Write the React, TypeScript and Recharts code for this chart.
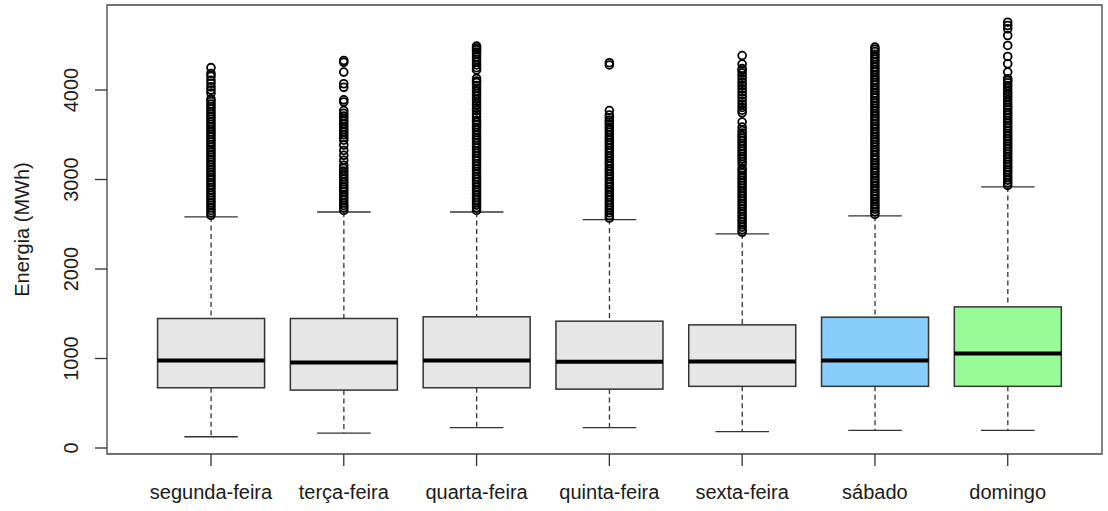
import React from 'react';
import { ComposedChart, Bar, Scatter, XAxis, YAxis, ReferenceArea } from 'recharts';

// weekday boxplot stats (MWh)
const days = ['segunda-feira', 'terça-feira', 'quarta-feira', 'quinta-feira', 'sexta-feira', 'sábado', 'domingo'];
const lowerWhisker = [126, 167, 227, 227, 182, 198, 198];
const firstQuartile = [673, 647, 673, 658, 689, 689, 689];
const medians = [979, 956, 979, 963, 967, 979, 1057];
const thirdQuartile = [1447, 1447, 1466, 1417, 1376, 1462, 1577];
const upperWhisker = [2582, 2637, 2637, 2552, 2392, 2593, 2917];
const yTicks = [0, 1000, 2000, 3000, 4000];
const xTicks = [1, 2, 3, 4, 5, 6, 7];
const yDomain: [number, number] = [-67, 4950];
const xDomain: [number, number] = [0.217, 7.71];

const segundaOut = [
  2600, 2628, 2655, 2684, 2712, 2740, 2769, 2797, 2825, 2853, 2882, 2910, 2938, 2966, 2995, 3023, 3051, 3080,
  3108, 3136, 3164, 3193, 3221, 3249, 3278, 3306, 3334, 3362, 3391, 3419, 3447, 3476, 3504, 3532, 3560, 3589,
  3617, 3645, 3674, 3702, 3730, 3758, 3787, 3815, 3843, 3872, 3900, 3965, 4000, 4035, 4075, 4110, 4155, 4185, 4250,
];
const tercaOut = [
  2655, 2685, 2710, 2740, 2770, 2800, 2830, 2860, 2890, 2915, 2945, 2975, 3005, 3035, 3065, 3095, 3125,
  3160, 3215, 3270, 3325, 3385,
  3440, 3470, 3500, 3530, 3560, 3590, 3620, 3650, 3680, 3710, 3740, 3770,
  3865, 3890, 4030, 4070, 4200, 4310, 4330,
];
const quartaOut = [
  2655, 2684, 2713, 2742, 2771, 2800, 2829, 2858, 2887, 2916, 2945, 2974, 3003, 3032, 3061, 3090, 3119, 3148,
  3177, 3206, 3235, 3264, 3293, 3322, 3351, 3380, 3409, 3438, 3467, 3496, 3525, 3554, 3583, 3612, 3640, 3662,
  3700, 3735, 3770, 3800, 3835, 3870, 3900, 3930, 3960, 3990, 4020, 4050, 4085, 4100, 4130,
  4225, 4250, 4280, 4310, 4340, 4370, 4400, 4425, 4450, 4470, 4490,
];
const quintaOut = [
  2570, 2599, 2628, 2657, 2686, 2715, 2744, 2773, 2802, 2831, 2860, 2889, 2918, 2947, 2976, 3005, 3034, 3063,
  3092, 3121, 3150, 3179, 3208, 3237, 3266, 3295, 3324, 3353, 3382, 3411, 3440, 3469, 3498, 3527, 3556, 3585,
  3614, 3643, 3662, 3690, 3720, 3770, 4280, 4305,
];
const sextaOut = [
  2410, 2439, 2468, 2497, 2526, 2555, 2584, 2613, 2642, 2671, 2700, 2729, 2758, 2787, 2816, 2845, 2874, 2903,
  2932, 2961, 2990, 3019, 3048, 3077, 3106, 3125, 3170,
  3200, 3229, 3258, 3287, 3316, 3345, 3374, 3403, 3432, 3461, 3490, 3519, 3548, 3586, 3642,
  3745, 3775, 3805, 3840, 3875, 3910, 3945, 3980, 4015, 4050, 4085, 4120, 4155, 4190, 4220, 4240, 4290, 4385,
];
const sabadoOut = [
  2610, 2640, 2668, 2697, 2725, 2755, 2784, 2812, 2840, 2870, 2900, 2928, 2957, 2985, 3015, 3044, 3072, 3100,
  3130, 3160, 3188, 3217, 3245, 3275, 3304, 3332, 3360, 3390, 3420, 3448, 3477, 3505, 3535, 3564, 3592, 3620,
  3650, 3680, 3708, 3737, 3765, 3795, 3824, 3852, 3880, 3910, 3940, 3968, 3997, 4025, 4055, 4084, 4112, 4140,
  4170, 4200, 4228, 4257, 4285, 4315, 4344, 4372, 4400, 4430, 4455, 4479,
];
const domingoOut = [
  2935, 2964, 2993, 3022, 3051, 3080, 3109, 3138, 3167, 3196, 3225, 3254, 3283, 3312, 3341, 3370, 3399, 3428,
  3457, 3486, 3515, 3544, 3573, 3602, 3631, 3660, 3689, 3718, 3747, 3776, 3805, 3830,
  3860, 3890, 3925, 3955, 3985, 4020, 4050, 4080, 4107, 4126, 4200, 4293, 4375, 4498, 4609, 4684, 4721, 4758,
];
const outliers = [segundaOut, tercaOut, quartaOut, quintaOut, sextaOut, sabadoOut, domingoOut];

const boxFills = ['#e6e6e6', '#e6e6e6', '#e6e6e6', '#e6e6e6', '#e6e6e6', '#87cefa', '#98fb98'];
const FONT = '"Liberation Sans", Arial, sans-serif';
const TEXT = '#1a1a1a';
const LINE = '#333';

const boxData = days.map((day, i) => ({
  pos: xTicks[i],
  day,
  box: [firstQuartile[i], thirdQuartile[i]],
  lo: lowerWhisker[i],
  q1: firstQuartile[i],
  med: medians[i],
  q3: thirdQuartile[i],
  hi: upperWhisker[i],
}));

const outlierPoints = days.flatMap((_, i) => outliers[i].map((v) => ({ pos: xTicks[i], v })));

// draws box, median, whiskers; the bar's own y/height give the scale
const BoxShape = (props: any) => {
  const { x, y, width, height, payload, index } = props;
  const top = Math.min(y, y + height);
  const h = Math.abs(height);
  const k = h / (payload.q3 - payload.q1);
  const toY = (v: number) => top + (payload.q3 - v) * k;
  const cx = x + width / 2;
  const capHalf = width / 4;
  const yHi = toY(payload.hi);
  const yLo = toY(payload.lo);
  const yMed = toY(payload.med);
  return (
    <g>
      <line x1={cx} x2={cx} y1={yHi} y2={top} stroke={LINE} strokeWidth={1.3} strokeDasharray="5 3.5" />
      <line x1={cx} x2={cx} y1={top + h} y2={yLo} stroke={LINE} strokeWidth={1.3} strokeDasharray="5 3.5" />
      <line x1={cx - capHalf} x2={cx + capHalf} y1={yHi} y2={yHi} stroke={LINE} strokeWidth={1.3} />
      <line x1={cx - capHalf} x2={cx + capHalf} y1={yLo} y2={yLo} stroke={LINE} strokeWidth={1.3} />
      <rect x={x} y={top} width={width} height={h} fill={boxFills[index]} stroke={LINE} strokeWidth={1.5} />
      <line x1={x} x2={x + width} y1={yMed} y2={yMed} stroke="#000" strokeWidth={4} />
    </g>
  );
};

const OutlierDot = (props: any) => (
  <circle cx={props.cx} cy={props.cy} r={3.9} fill="none" stroke="#000" strokeWidth={1.8} />
);

const YTick = ({ x, y, payload }: any) => (
  <text
    x={x - 15}
    y={y}
    transform={`rotate(-90, ${x - 15}, ${y})`}
    textAnchor="middle"
    fontSize={20}
    fontFamily={FONT}
    fill={TEXT}
  >
    {payload.value}
  </text>
);

const YLabel = ({ viewBox }: any) => {
  const cy = viewBox.y + viewBox.height / 2;
  return (
    <text x={29} y={cy} transform={`rotate(-90, 29, ${cy})`} textAnchor="middle" fontSize={20} fontFamily={FONT} fill={TEXT}>
      Energia (MWh)
    </text>
  );
};

export default function App() {
  return (
    <div style={{ position: 'absolute', left: 0, top: 0, background: '#fff' }}>
      <ComposedChart
        width={1108}
        height={511}
        data={boxData}
        margin={{ top: 5, right: 6, bottom: 0, left: 0 }}
        style={{ fontFamily: FONT }}
      >
        <XAxis
          dataKey="pos"
          type="number"
          domain={xDomain}
          ticks={xTicks}
          allowDataOverflow
          tickFormatter={(v: number) => days[v - 1]}
          height={57}
          axisLine={false}
          tickSize={12}
          tickMargin={19}
          tickLine={{ stroke: LINE, strokeWidth: 1.3 }}
          tick={{ fontSize: 20, fill: TEXT, fontFamily: FONT }}
          interval={0}
        />
        <YAxis
          type="number"
          width={107}
          domain={yDomain}
          ticks={yTicks}
          allowDataOverflow
          axisLine={false}
          tickSize={12}
          tickLine={{ stroke: LINE, strokeWidth: 1.3 }}
          tick={<YTick />}
          label={{ content: <YLabel /> }}
        />
        <ReferenceArea
          x1={xDomain[0]}
          x2={xDomain[1]}
          y1={yDomain[0]}
          y2={yDomain[1]}
          fill="none"
          stroke="#444"
          strokeWidth={1.3}
          ifOverflow="visible"
        />
        <Bar dataKey="box" barSize={107} shape={<BoxShape />} isAnimationActive={false} />
        <Scatter data={outlierPoints} dataKey="v" shape={<OutlierDot />} isAnimationActive={false} />
      </ComposedChart>
    </div>
  );
}
